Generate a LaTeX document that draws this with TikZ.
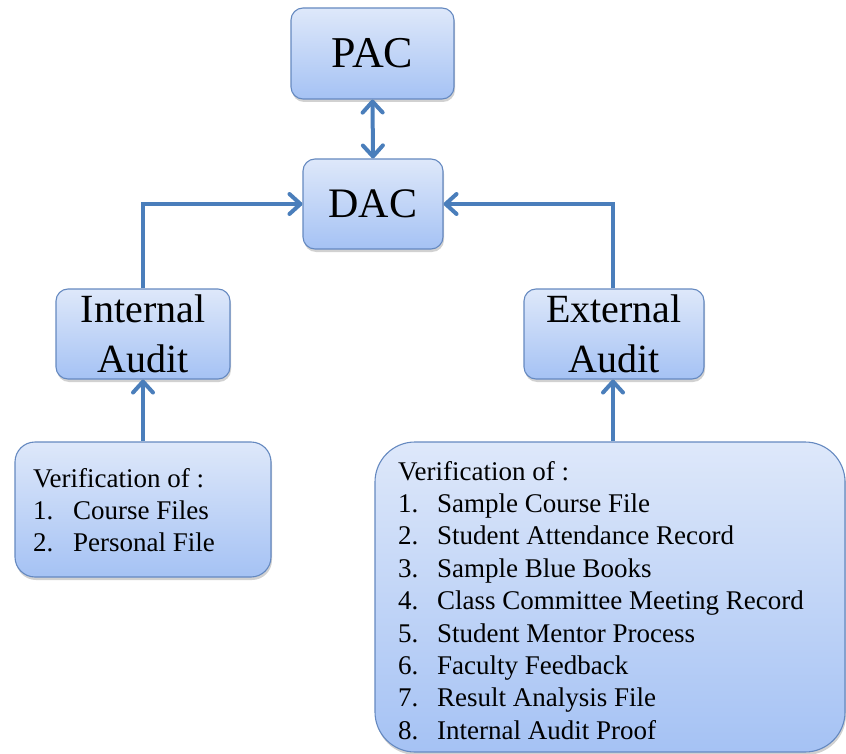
\documentclass[tikz,border=0pt]{standalone}
\usepackage{fontspec}
\setmainfont{Liberation Serif}
\usetikzlibrary{arrows.meta,shadows}
\definecolor{boxtop}{HTML}{DEE8FA}
\definecolor{boxbot}{HTML}{A5C2F4}
\definecolor{boxline}{HTML}{6589C0}
\definecolor{arrblue}{RGB}{74,126,187}
\tikzset{
  box/.style={draw=boxline, line width=1.1pt, top color=boxtop, bottom color=boxbot,
    rounded corners=12pt, inner sep=0pt,
    drop shadow={shadow xshift=1pt, shadow yshift=-3pt, opacity=0.18, fill=black}},
  bigtitle/.style={font=\fontsize{44}{50}\selectfont},
  midtitle/.style={font=\fontsize{40}{50}\selectfont, align=center},
  listtext/.style={font=\fontsize{27}{32.4}\selectfont, anchor=base west, inner sep=0pt},
  tipstyle/.style={},
  arr/.style={draw=arrblue, line width=4pt, -{Straight Barb[length=11pt,width=20pt,round]}},
  arrboth/.style={draw=arrblue, line width=4pt, {Straight Barb[length=11pt,width=20pt,round]}-{Straight Barb[length=11pt,width=20pt,round]}}
}
\begin{document}
\begin{tikzpicture}[x=1pt,y=-1pt]
\useasboundingbox (0,0) rectangle (846,754);
\node[box, bigtitle, minimum width=163pt, minimum height=91pt] (PAC) at (372.5,53.5) {PAC};
\node[box, bigtitle, minimum width=140pt, minimum height=90pt, font=\fontsize{42}{50}\selectfont] (DAC) at (373,204) {DAC};
\node[box, midtitle, minimum width=174pt, minimum height=90pt] (IA) at (143,334) {Internal\\Audit};
\node[box, midtitle, minimum width=180pt, minimum height=90pt] (EA) at (614,334) {External\\Audit};
\node[box, rounded corners=20pt, minimum width=256pt, minimum height=135pt] (LB) at (143,509.5) {};
\node[box, rounded corners=40pt, minimum width=470pt, minimum height=310pt] (RB) at (610,597) {};
\node[listtext] (LT) at (33,487) {\begin{tabular}[t]{@{}p{40pt}@{}l@{}}
\multicolumn{2}{@{}l@{}}{Verification of :}\\
1. & Course Files\\
2. & Personal File
\end{tabular}};
\node[listtext] (RT) at (398,480) {\begin{tabular}[t]{@{}p{39pt}@{}l@{}}
\multicolumn{2}{@{}l@{}}{Verification of :}\\
1. & Sample Course File\\
2. & Student Attendance Record\\
3. & Sample Blue Books\\
4. & Class Committee Meeting Record\\
5. & Student Mentor Process\\
6. & Faculty Feedback\\
7. & Result Analysis File\\
8. & Internal Audit Proof
\end{tabular}};
\draw[arrboth] (PAC.south) -- (DAC.north);
\draw[arr] (IA.north) |- (DAC.west);
\draw[arr] (EA.north -| 613,0) |- (DAC.east);
\draw[arr] (LB.north) -- (IA.south);
\draw[arr] (RB.north -| 613,0) -- (EA.south -| 613,0);
\end{tikzpicture}
\end{document}
